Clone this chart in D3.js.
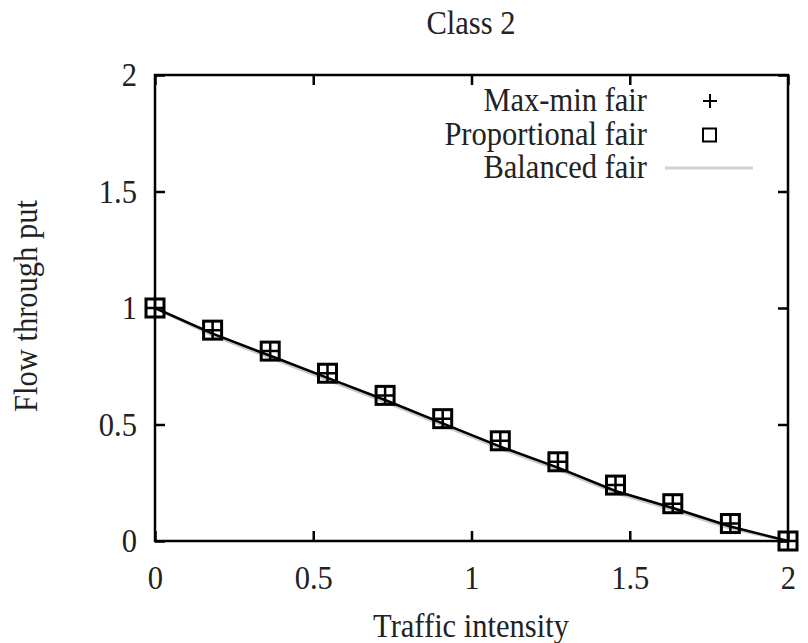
<!DOCTYPE html>
<html>
<head>
<meta charset="utf-8">
<script src="https://cdn.jsdelivr.net/npm/d3@7"></script>
<style>
  body { margin: 0; background: #fff; }
</style>
</head>
<body>
<div id="chart"></div>
<script>
// traffic intensity at each sample
var intensity = [0, 0.182, 0.364, 0.545, 0.727, 0.909, 1.091, 1.273, 1.455, 1.636, 1.818, 2.0];
var maxMin = [1.0, 0.905, 0.815, 0.72, 0.625, 0.525, 0.43, 0.34, 0.24, 0.16, 0.075, 0.0];
var propFair = [1.0, 0.905, 0.815, 0.72, 0.625, 0.525, 0.43, 0.34, 0.24, 0.16, 0.075, 0.0];
var balanced = [1.0, 0.882, 0.787, 0.692, 0.597, 0.497, 0.398, 0.307, 0.207, 0.134, 0.055, 0.0];
var exact = [1.0, 0.89, 0.795, 0.70, 0.605, 0.505, 0.405, 0.315, 0.215, 0.142, 0.062, 0.0];
var xTicks = [0, 0.5, 1, 1.5, 2];
var yTicks = [0, 0.5, 1, 1.5, 2];
var legendNames = ['Max-min fair', 'Proportional fair', 'Balanced fair'];

var W = 808, H = 643;
var FONT = 'Liberation Serif', FS = 33;
var svg = d3.select('#chart').append('svg').attr('width', W).attr('height', H)
  .attr('font-family', FONT);

var x = d3.scaleLinear().domain([0, 2]).range([155, 788]);
var y = d3.scaleLinear().domain([0, 2]).range([541, 75]);
var fmt = function(d) { return String(d); };

// axes, ticks pointing inward like gnuplot
var gx = svg.append('g').attr('transform', 'translate(0,541)')
  .call(d3.axisBottom(x).tickValues(xTicks).tickFormat(fmt).tickSize(-10).tickPadding(25));
var gy = svg.append('g').attr('transform', 'translate(155,0)')
  .call(d3.axisLeft(y).tickValues(yTicks).tickFormat(fmt).tickSize(-10).tickPadding(18));
var gt = svg.append('g').attr('transform', 'translate(0,75)')
  .call(d3.axisTop(x).tickValues(xTicks).tickFormat('').tickSize(-10));
var gr = svg.append('g').attr('transform', 'translate(788,0)')
  .call(d3.axisRight(y).tickValues(yTicks).tickFormat('').tickSize(-10));

[gx, gy, gt, gr].forEach(function(g) {
  g.attr('font-family', FONT).attr('font-size', FS);
  g.select('.domain').remove();
  g.selectAll('line').attr('stroke', '#000').attr('stroke-width', 2.5);
  g.selectAll('text').attr('fill', '#222');
});

svg.append('rect')
  .attr('x', x(0)).attr('y', y(2))
  .attr('width', x(2) - x(0)).attr('height', y(0) - y(2))
  .attr('fill', 'none').attr('stroke', '#000').attr('stroke-width', 2.5);

// curves
var line = d3.line().x(function(d) { return x(d[0]); }).y(function(d) { return y(d[1]); });
svg.append('path').datum(intensity.map(function(v, i) { return [v, balanced[i]]; }))
  .attr('d', line).attr('fill', 'none').attr('stroke', '#c8c8c8').attr('stroke-width', 3);
svg.append('path').datum(intensity.map(function(v, i) { return [v, exact[i]]; }))
  .attr('d', line).attr('fill', 'none').attr('stroke', '#000').attr('stroke-width', 2.6);

// markers: squares (proportional) and pluses (max-min)
var s = 9;
svg.append('g').selectAll('rect').data(intensity.map(function(v, i) { return [v, propFair[i]]; }))
  .enter().append('rect')
  .attr('x', function(d) { return x(d[0]) - s; })
  .attr('y', function(d) { return y(d[1]) - s; })
  .attr('width', 2 * s).attr('height', 2 * s)
  .attr('fill', 'none').attr('stroke', '#000').attr('stroke-width', 3);
svg.append('g').selectAll('path').data(intensity.map(function(v, i) { return [v, maxMin[i]]; }))
  .enter().append('path')
  .attr('d', function(d) {
    var cx = x(d[0]), cy = y(d[1]);
    return 'M' + (cx - s) + ',' + cy + 'H' + (cx + s) + 'M' + cx + ',' + (cy - s) + 'V' + (cy + s);
  })
  .attr('stroke', '#000').attr('stroke-width', 2.5);

// legend
var ly = [101, 134.5, 168];
svg.append('g').selectAll('text').data(legendNames).enter().append('text')
  .attr('x', 647).attr('y', function(d, i) { return ly[i] + 10; })
  .attr('text-anchor', 'end')
  .attr('font-size', FS).attr('fill', '#222').text(function(d) { return d; });
svg.append('path')
  .attr('d', 'M703,' + ly[0] + 'H717M710,' + (ly[0] - 7) + 'V' + (ly[0] + 7))
  .attr('stroke', '#000').attr('stroke-width', 2);
svg.append('rect').attr('x', 703).attr('y', ly[1] - 6).attr('width', 13).attr('height', 13)
  .attr('fill', 'none').attr('stroke', '#000').attr('stroke-width', 2);
svg.append('line').attr('x1', 665).attr('x2', 753).attr('y1', ly[2]).attr('y2', ly[2])
  .attr('stroke', '#d0d0d0').attr('stroke-width', 3);

// titles
svg.append('text').attr('x', 471).attr('y', 34).attr('text-anchor', 'middle')
  .attr('font-size', FS).attr('fill', '#222').text('Class 2');
svg.append('text').attr('x', 471).attr('y', 637).attr('text-anchor', 'middle')
  .attr('font-size', FS).attr('fill', '#222').text('Traffic intensity');
svg.append('text').attr('transform', 'translate(37,306) rotate(-90)')
  .attr('text-anchor', 'middle')
  .attr('font-size', FS).attr('fill', '#222').text('Flow through put');

// the original postscript font is a bit narrower than Times
svg.selectAll('text').each(function() {
  var w = this.getComputedTextLength();
  if (w > 0) d3.select(this).attr('textLength', w * 0.925).attr('lengthAdjust', 'spacingAndGlyphs');
});
</script>
</body>
</html>
